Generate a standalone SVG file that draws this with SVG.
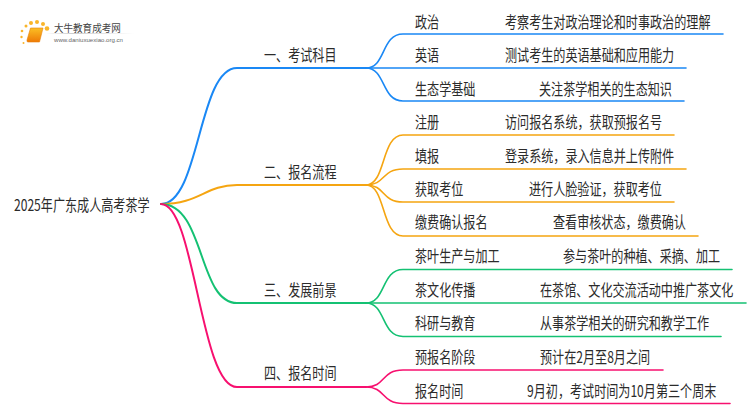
<svg xmlns="http://www.w3.org/2000/svg" width="750" height="410" viewBox="0 0 750 410">
<defs>
<style>
text{font-family:"Noto Sans CJK SC","Liberation Sans",sans-serif;fill:#2b2b2b;font-size:16px}
.c{fill:none;stroke-linecap:round}
.m{stroke-width:2}
.l{stroke-width:1.6}
.b{stroke:#1a88f5}.o{stroke:#f5a511}.g{stroke:#14c173}.p{stroke:#f7106f}
</style>
<linearGradient id="bk" x1="0" y1="0" x2="0" y2="1"><stop offset="0" stop-color="#fbbf24"/><stop offset="1" stop-color="#ee7a06"/></linearGradient>
<linearGradient id="ln" x1="0" y1="0" x2="1" y2="0"><stop offset="0" stop-color="#ccc" stop-opacity="0"/><stop offset=".3" stop-color="#ccc"/><stop offset="1" stop-color="#ccc" stop-opacity="0"/></linearGradient>
</defs>
<rect width="750" height="410" fill="#fff"/>
<g id="connectors">
<path class="c m b" d="M161 204C200 204 198 68 237 68H366"/>
<path class="c m o" d="M161 204C200 204 205 185 237 185H366"/>
<path class="c m g" d="M161 204C205 204 198 303 237 303H366"/>
<path class="c m p" d="M161 204C195 204 200 387 237 387H366"/>
<path class="c l b" d="M366 68C386 68 381 34 403 34H723"/>
<path class="c l b" d="M366 68H686"/>
<path class="c l b" d="M366 68C386 68 381 101 403 101H684"/>
<path class="c l o" d="M366 185C386 185 381 135 403 135H674"/>
<path class="c l o" d="M366 185C386 185 381 169 403 169H686"/>
<path class="c l o" d="M366 185C386 185 381 202 403 202H674"/>
<path class="c l o" d="M366 185C386 185 381 236 403 236H698"/>
<path class="c l g" d="M366 303C386 303 381 269.500 403 269.500H732"/>
<path class="c l g" d="M366 303H746"/>
<path class="c l g" d="M366 303C386 303 381 336.500 403 336.500H721"/>
<path class="c l p" d="M366 387C386 387 381 370 403 370H663"/>
<path class="c l p" d="M366 387C386 387 381 403.500 403 403.500H730"/>
</g>
<g id="logo">
<g fill="#f9b52a"><circle cx="47" cy="28.500" r="2.300"/><circle cx="43" cy="24" r="2"/><circle cx="26" cy="26" r="1.500"/><circle cx="31" cy="23" r="2"/><circle cx="37" cy="22" r="2"/><circle cx="22" cy="31" r="1.300"/><circle cx="21.500" cy="37" r="1.200"/><circle cx="23.500" cy="43" r="1"/></g>
<path d="M30.500 28H43L39.500 42H28Q26.500 42 27 40Z" fill="url(#bk)" stroke="#e8820c" stroke-width=".6"/>
<text transform="translate(54 32) scale(.9 1)" style="font-size:10.600px;fill:#444">大牛教育成考网</text>
<rect x="46" y="33" width="88" height="1" fill="url(#ln)"/>
<text x="54" y="41.500" style="font-size:6px;fill:#666;font-family:'Liberation Sans',sans-serif" textLength="69" lengthAdjust="spacingAndGlyphs">www.daniuxuexiao.org.cn</text>
</g>
<g id="root"><text transform="translate(14 211) scale(.756 1)">2025年广东成人高考茶学</text></g>
<g id="b1"><text transform="translate(264 61) scale(.756 1)">一、考试科目</text></g>
<g id="b2"><text transform="translate(264 178) scale(.756 1)">二、报名流程</text></g>
<g id="b3"><text transform="translate(264 296) scale(.756 1)">三、发展前景</text></g>
<g id="b4"><text transform="translate(264 379) scale(.756 1)">四、报名时间</text></g>
<g id="n1"><text transform="translate(415 28) scale(.756 1)">政治</text><text transform="translate(505 28) scale(.756 1)">考察考生对政治理论和时事政治的理解</text></g>
<g id="n2"><text transform="translate(415 61) scale(.756 1)">英语</text><text transform="translate(505 61) scale(.756 1)">测试考生的英语基础和应用能力</text></g>
<g id="n3"><text transform="translate(415 95) scale(.756 1)">生态学基础</text><text transform="translate(539 95) scale(.756 1)">关注茶学相关的生态知识</text></g>
<g id="n4"><text transform="translate(415 128) scale(.756 1)">注册</text><text transform="translate(505 128) scale(.756 1)">访问报名系统，获取预报名号</text></g>
<g id="n5"><text transform="translate(415 162) scale(.756 1)">填报</text><text transform="translate(505 162) scale(.756 1)">登录系统，录入信息并上传附件</text></g>
<g id="n6"><text transform="translate(415 195) scale(.756 1)">获取考位</text><text transform="translate(529 195) scale(.756 1)">进行人脸验证，获取考位</text></g>
<g id="n7"><text transform="translate(415 228) scale(.756 1)">缴费确认报名</text><text transform="translate(553 228) scale(.756 1)">查看审核状态，缴费确认</text></g>
<g id="n8"><text transform="translate(415 262) scale(.756 1)">茶叶生产与加工</text><text transform="translate(563 262) scale(.756 1)">参与茶叶的种植、采摘、加工</text></g>
<g id="n9"><text transform="translate(415 296) scale(.756 1)">茶文化传播</text><text transform="translate(540 296) scale(.756 1)">在茶馆、文化交流活动中推广茶文化</text></g>
<g id="n10"><text transform="translate(415 329) scale(.756 1)">科研与教育</text><text transform="translate(540 329) scale(.756 1)">从事茶学相关的研究和教学工作</text></g>
<g id="n11"><text transform="translate(415 363) scale(.756 1)">预报名阶段</text><text transform="translate(540 363) scale(.756 1)">预计在2月至8月之间</text></g>
<g id="n12"><text transform="translate(415 397) scale(.756 1)">报名时间</text><text transform="translate(527 397) scale(.756 1)">9月初，考试时间为10月第三个周末</text></g>
</svg>
